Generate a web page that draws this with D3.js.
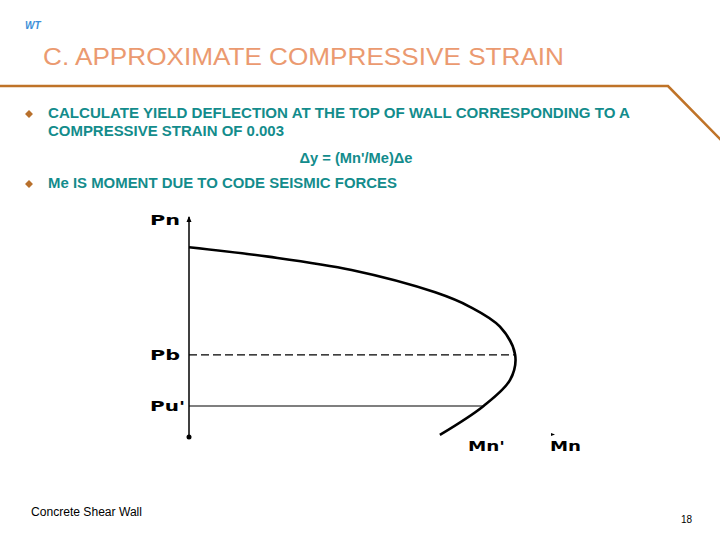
<!DOCTYPE html>
<html><head><meta charset="utf-8">
<script src="https://cdn.jsdelivr.net/npm/d3@7"></script>
<style>body{margin:0;background:#fff}svg{display:block}</style>
</head><body>
<script>
// Interaction diagram (moment M vs axial load P), arbitrary units
const curveM = [0, 21.9, 44.9, 68.0, 77.6, 85.9, 90.1, 88.7, 81.3, 69.3];
const curveP = [86.2, 81.9, 75.8, 65.6, 59.0, 49.9, 37.0, 25.6, 13.6, 0.5];
const loadLevels = [{name:"Pb", value:37.0, dashed:true}, {name:"Pu'", value:13.7, dashed:false}];
const puIntersectM = 81.3;
const axisTopP = 100;
const momentLabels = [{name:"Mn'", value:82}, {name:"Mn", value:100}];
const bullets = [
  ["CALCULATE YIELD DEFLECTION AT THE TOP OF WALL CORRESPONDING TO A", "COMPRESSIVE STRAIN OF 0.003"],
  ["Me IS MOMENT DUE TO CODE SEISMIC FORCES"]
];
const formula = "\u0394y = (Mn'/Me)\u0394e";

const W = 720, H = 540;
const svg = d3.select("body").append("svg").attr("width", W).attr("height", H);

// header
svg.append("text").attr("x", 25).attr("y", 29).text("WT")
  .attr("font-family","Liberation Sans, Arial").attr("font-style","italic").attr("font-weight","bold")
  .attr("font-size",10).attr("fill","#3d8fd8");
svg.append("text").attr("x", 43).attr("y", 65).text("C. APPROXIMATE COMPRESSIVE STRAIN")
  .attr("font-family","Liberation Sans, Arial").attr("font-size",24.5).attr("fill","#eb9a70")
  .attr("textLength",521).attr("lengthAdjust","spacingAndGlyphs");
svg.append("path").attr("d","M0,86 L668,86 L721,140").attr("fill","none")
  .attr("stroke","#bf7328").attr("stroke-width",2.6);

// bullets
const teal = "#138c8c";
const bulletY = [118, 188];
const lineLens = [[582, 236], [349]];
bullets.forEach((lines, i) => {
  const y0 = bulletY[i];
  svg.append("path").attr("d", d3.symbol(d3.symbolDiamond2, 40)())
    .attr("transform", `translate(29,${y0-4})`).attr("fill","#b8702c");
  lines.forEach((t, j) => {
    svg.append("text").attr("x", 48).attr("y", y0 + j*18).text(t)
      .attr("font-family","Liberation Sans, Arial").attr("font-size",14).attr("font-weight","bold")
      .attr("fill", teal).attr("textLength", lineLens[i][j]).attr("lengthAdjust","spacingAndGlyphs");
  });
});
svg.append("text").attr("x", 356).attr("y", 163).attr("text-anchor","middle").text(formula)
  .attr("font-family","Liberation Sans, Arial").attr("font-size",14).attr("font-weight","bold")
  .attr("fill", teal).attr("textLength",113).attr("lengthAdjust","spacingAndGlyphs");

// chart
const x = d3.scaleLinear().domain([0, 100]).range([189, 551]);
const y = d3.scaleLinear().domain([0, 100]).range([436, 217]);
const g = svg.append("g");

// y axis
g.append("line").attr("x1", x(0)).attr("x2", x(0)).attr("y1", y(0)).attr("y2", y(axisTopP))
  .attr("stroke","#000").attr("stroke-width",1.5);
g.append("path").attr("d", `M${x(0)-2.5},${y(axisTopP)+5} L${x(0)},${y(axisTopP)-1} L${x(0)+2.5},${y(axisTopP)+5}Z`).attr("fill","#000");
g.append("circle").attr("cx", x(0)).attr("cy", y(0)+1).attr("r", 2.5).attr("fill","#000");
// x axis arrow tip
g.append("path").attr("d", `M${x(100)},${y(0)-3} L${x(100)+4},${y(0)-1.5} L${x(100)},${y(0)}Z`).attr("fill","#000");

// load levels
loadLevels.forEach(l => {
  g.append("line").attr("x1", x(0)).attr("y1", y(l.value)).attr("y2", y(l.value))
    .attr("x2", l.dashed ? x(d3.max(curveM)) : x(puIntersectM))
    .attr("stroke","#000").attr("stroke-width",1.2)
    .attr("stroke-dasharray", l.dashed ? "8,4" : null);
});

// curve
const pts = curveM.map((m, i) => [m, curveP[i]]);
g.append("path").datum(pts)
  .attr("d", d3.line().x(d => x(d[0])).y(d => y(d[1])).curve(d3.curveCatmullRom.alpha(0.5)))
  .attr("fill","none").attr("stroke","#000").attr("stroke-width",2.6);

// labels
const lblFont = "DejaVu Sans, Arial";
const pLabels = [{name:"Pn", value:axisTopP - 1.5, w:30}, {name:"Pb", value:37.0, w:30}, {name:"Pu'", value:13.7, w:35}];
pLabels.forEach(l => {
  g.append("text").attr("x", 150).attr("y", y(l.value) + 5).text(l.name)
    .attr("font-family", lblFont).attr("font-weight","900").attr("font-size",14)
    .attr("textLength", l.w).attr("lengthAdjust","spacingAndGlyphs");
});
const mWidths = [37, 31];
momentLabels.forEach((l, i) => {
  g.append("text").attr("x", i === 0 ? 468 : x(l.value) - 1).attr("y", 451).text(l.name)
    .attr("font-family", lblFont).attr("font-weight","900").attr("font-size",14)
    .attr("textLength", mWidths[i]).attr("lengthAdjust","spacingAndGlyphs");
});

// footer
svg.append("text").attr("x", 31).attr("y", 516).text("Concrete Shear Wall")
  .attr("font-family","Liberation Sans, Arial").attr("font-size",12).attr("fill","#000")
  .attr("textLength",111).attr("lengthAdjust","spacingAndGlyphs");
svg.append("text").attr("x", 681).attr("y", 523).text("18")
  .attr("font-family","Liberation Sans, Arial").attr("font-size",10).attr("fill","#000");
</script>
</body></html>
